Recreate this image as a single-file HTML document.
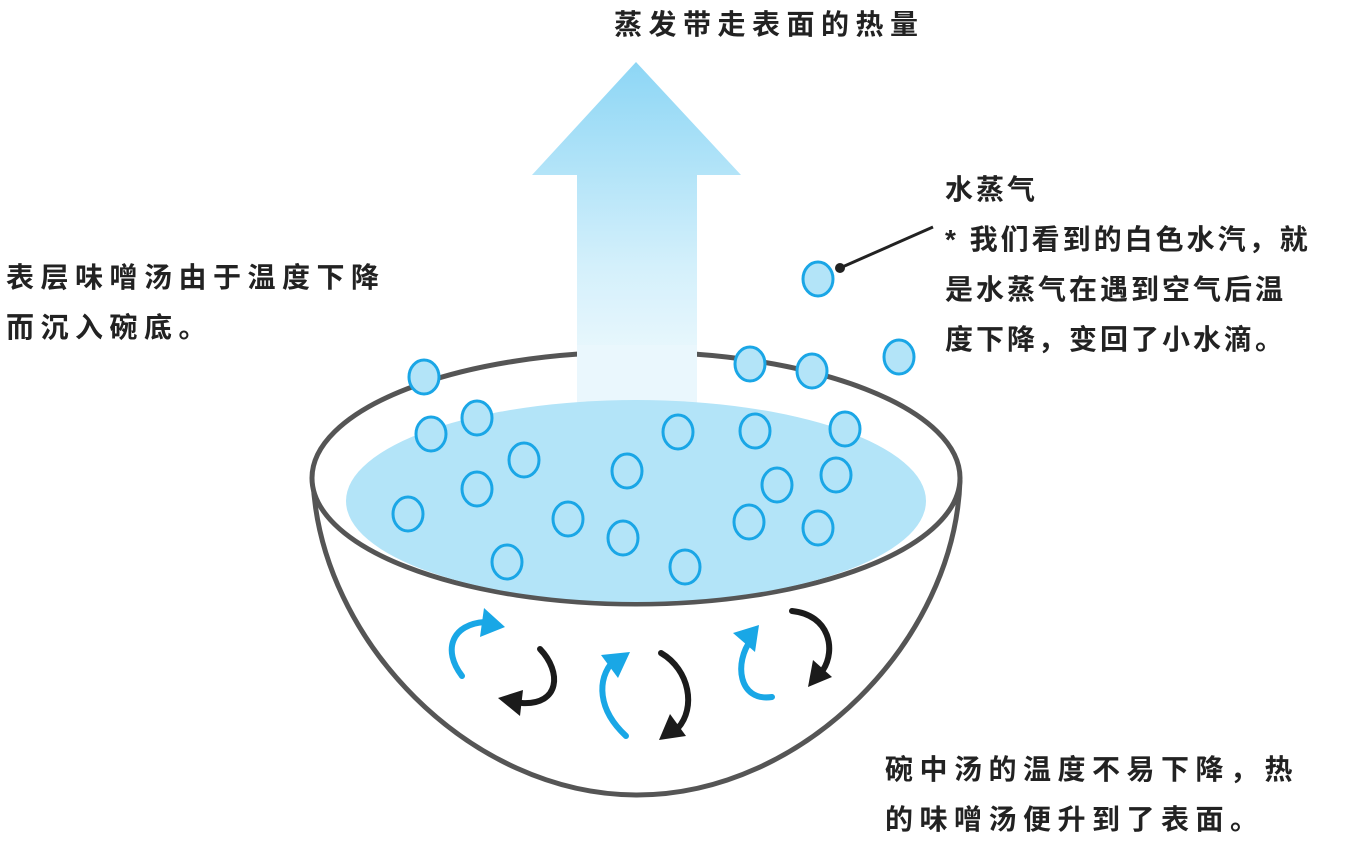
<!DOCTYPE html>
<html><head><meta charset="utf-8"><style>
html,body{margin:0;padding:0;background:#fff;}
body{width:1365px;height:840px;position:relative;overflow:hidden;font-family:"Liberation Sans","Noto Sans CJK SC",sans-serif;}
.t{position:absolute;font-size:28px;color:#222;letter-spacing:6.5px;line-height:50px;white-space:nowrap;font-weight:bold;}
</style></head><body>
<svg width="1365" height="840" style="position:absolute;left:0;top:0">
<defs>
<linearGradient id="g" x1="0" y1="0" x2="0" y2="1">
<stop offset="0" stop-color="#8dd6f5"/><stop offset="0.6" stop-color="#d4f0fb"/><stop offset="1" stop-color="#f4fbfe"/>
</linearGradient>
</defs>
<path d="M636,62 L741,175 L697,175 L697,405 L577,405 L577,175 L532,175 Z" fill="url(#g)"/>
<path d="M313,480 C320,640 470,795 637,795 C804,795 955,640 960,480" fill="#fff" stroke="#555" stroke-width="5"/>
<ellipse cx="636" cy="478" rx="324" ry="126" fill="#fff" stroke="#555" stroke-width="5"/>
<rect x="577" y="345" width="120" height="67" fill="#eaf7fd"/>
<ellipse cx="636" cy="501" rx="290" ry="101" fill="#b3e4f8"/>
<g fill="#b3e4f8" stroke="#1aa6e6" stroke-width="3">
<ellipse cx="424" cy="377" rx="15" ry="17"/><ellipse cx="750" cy="364" rx="15" ry="17"/>
<ellipse cx="812" cy="371" rx="15" ry="17"/><ellipse cx="899" cy="357" rx="15" ry="17"/>
<ellipse cx="818" cy="279" rx="15" ry="17"/><ellipse cx="431" cy="434" rx="15" ry="17"/>
<ellipse cx="477" cy="418" rx="15" ry="17"/><ellipse cx="524" cy="460" rx="15" ry="17"/>
<ellipse cx="678" cy="432" rx="15" ry="17"/><ellipse cx="755" cy="431" rx="15" ry="17"/>
<ellipse cx="845" cy="429" rx="15" ry="17"/><ellipse cx="627" cy="471" rx="15" ry="17"/>
<ellipse cx="477" cy="489" rx="15" ry="17"/><ellipse cx="836" cy="475" rx="15" ry="17"/>
<ellipse cx="777" cy="485" rx="15" ry="17"/><ellipse cx="408" cy="514" rx="15" ry="17"/>
<ellipse cx="568" cy="519" rx="15" ry="17"/><ellipse cx="623" cy="538" rx="15" ry="17"/>
<ellipse cx="749" cy="522" rx="15" ry="17"/><ellipse cx="818" cy="528" rx="15" ry="17"/>
<ellipse cx="507" cy="562" rx="15" ry="17"/><ellipse cx="685" cy="567" rx="15" ry="17"/>
</g>
<line x1="840" y1="268" x2="933" y2="227" stroke="#222" stroke-width="3"/>
<circle cx="840" cy="268" r="5" fill="#222"/>
<g fill="none" stroke-width="6" stroke-linecap="round">
<path d="M462,676 C442,650 452,624 485,622" stroke="#19a7e6"/>
<path d="M540,649 C562,672 560,705 522,703" stroke="#1b1b1b"/>
<path d="M626,736 C598,710 596,680 614,660" stroke="#19a7e6"/>
<path d="M661,653 C690,670 696,708 678,728" stroke="#1b1b1b"/>
<path d="M772,697 C738,702 734,662 751,640" stroke="#19a7e6"/>
<path d="M792,611 C830,615 836,650 823,670" stroke="#1b1b1b"/>
</g>
<polygon points="484,608 505,627 480,637" fill="#19a7e6"/>
<polygon points="498,698 523,690 520,716" fill="#1b1b1b"/>
<polygon points="601,655 630,652 618,678" fill="#19a7e6"/>
<polygon points="659,740 670,714 686,736" fill="#1b1b1b"/>
<polygon points="733,633 759,625 755,652" fill="#19a7e6"/>
<polygon points="808,687 813,660 832,677" fill="#1b1b1b"/>
</svg>
<div class="t" style="left:614px;top:0px;">蒸发带走表面的热量</div>
<div class="t" style="left:6px;top:253px;">表层味噌汤由于温度下降<br>而沉入碗底。</div>
<div class="t" style="left:945px;top:165px;letter-spacing:3px;">水蒸气<br>* 我们看到的白色水汽，就<br>是水蒸气在遇到空气后温<br>度下降，变回了小水滴。</div>
<div class="t" style="left:885px;top:745px;">碗中汤的温度不易下降，热<br>的味噌汤便升到了表面。</div>
</body></html>
